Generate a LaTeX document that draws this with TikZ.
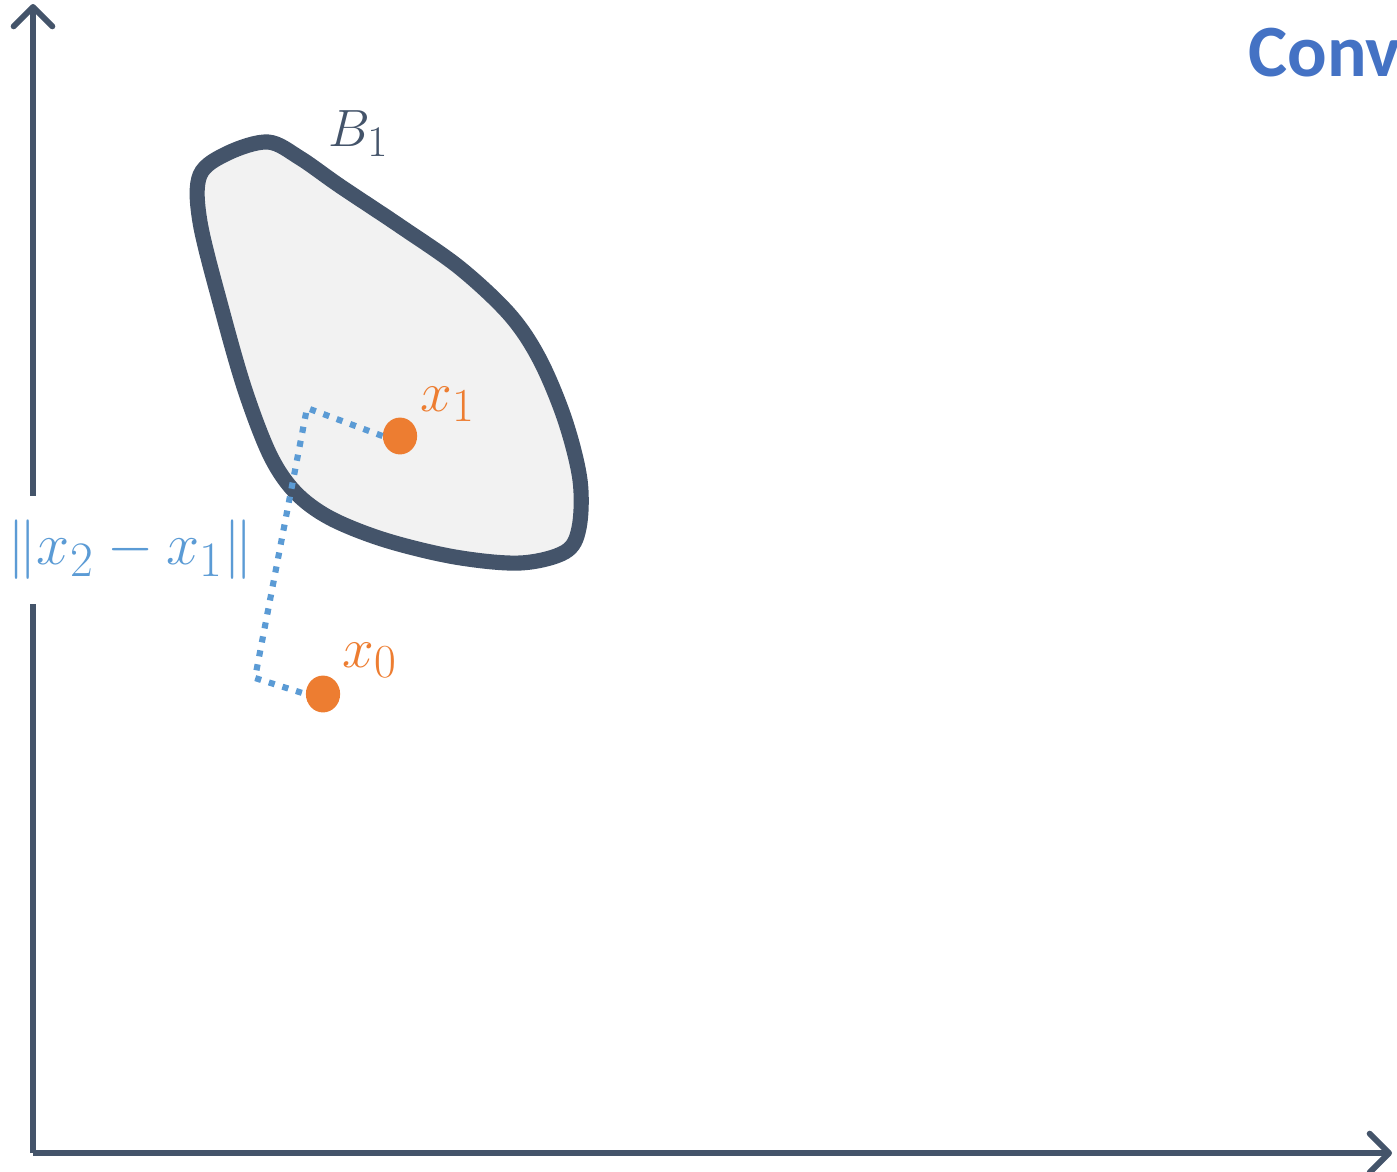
\documentclass[tikz,border=0pt]{standalone}
\usepackage{fontspec}
\newfontfamily\carlito{Carlito}
\usetikzlibrary{arrows.meta,shapes.geometric}
\definecolor{axisc}{HTML}{44546A}
\definecolor{fillc}{HTML}{F2F2F2}
\definecolor{dotc}{HTML}{5B9BD5}
\definecolor{orc}{HTML}{ED7D31}
\definecolor{titc}{HTML}{4472C4}
\tikzset{
  axis/.style={line width=3.4pt, draw=axisc, line join=miter,
    -{Straight Barb[length=11pt,width=22pt,line width=3.4pt,round]}},
  blob/.style={line width=8.6pt, draw=axisc, fill=fillc},
  dist/.style={line width=3.5pt, draw=dotc, dash pattern=on 3.5pt off 4.6pt},
  pt/.style={ellipse, fill=orc, inner sep=0pt, minimum width=19.5pt, minimum height=21pt},
  mlab/.style={inner sep=0pt, font=\fontsize{24.88}{28}\selectfont},
}
\begin{document}
\begin{tikzpicture}[x=0.02cm,y=-0.02cm]
\useasboundingbox (0,0) rectangle (1397,1171);
\coordinate (o) at (33,1153);
\coordinate (ytop) at (33,4);
\coordinate (xend) at (1392,1153);
\draw[axis] (o) -- (ytop);
\draw[axis] (o) -- (xend);
\draw[blob] plot[smooth cycle, tension=0.55] coordinates {
 (268,142) (300,158) (340,186) (400,226) (460,268) (510,315) (540,360)
 (565,420) (580,480) (579,528) (565,552) (520,563) (455,557) (385,540)
 (330,518) (295,492) (270,455) (245,390) (222,310) (200,222)
 (200,175) (228,153)};
\node[pt] (x1) at (400,436) {};
\node[pt] (x0) at (323,694) {};
\coordinate (c1) at (307,408);
\coordinate (c2) at (255,678);
\draw[dist] (x1.west) -- (c1) -- (c2) -- (x0.west);
\node[mlab, text=orc, anchor=base west, scale=1.3] (lx1) at (420,411) {$x_1$};
\node[mlab, text=orc, anchor=base west, scale=1.3] (lx0) at (342,667) {$x_0$};
\node[mlab, text=axisc, anchor=base west, scale=1.2] (lb1) at (328,146) {$B_1$};
\node[mlab, text=dotc, fill=white, inner ysep=10pt, inner xsep=2pt, anchor=west, scale=1.36] (ld) at (2,550) {$\|x_2-x_1\|$};
\node[anchor=base west, text=titc, inner sep=0pt, font=\carlito\bfseries\fontsize{42}{44}\selectfont] (tit) at (1248,76) {Conv};
\end{tikzpicture}
\end{document}
